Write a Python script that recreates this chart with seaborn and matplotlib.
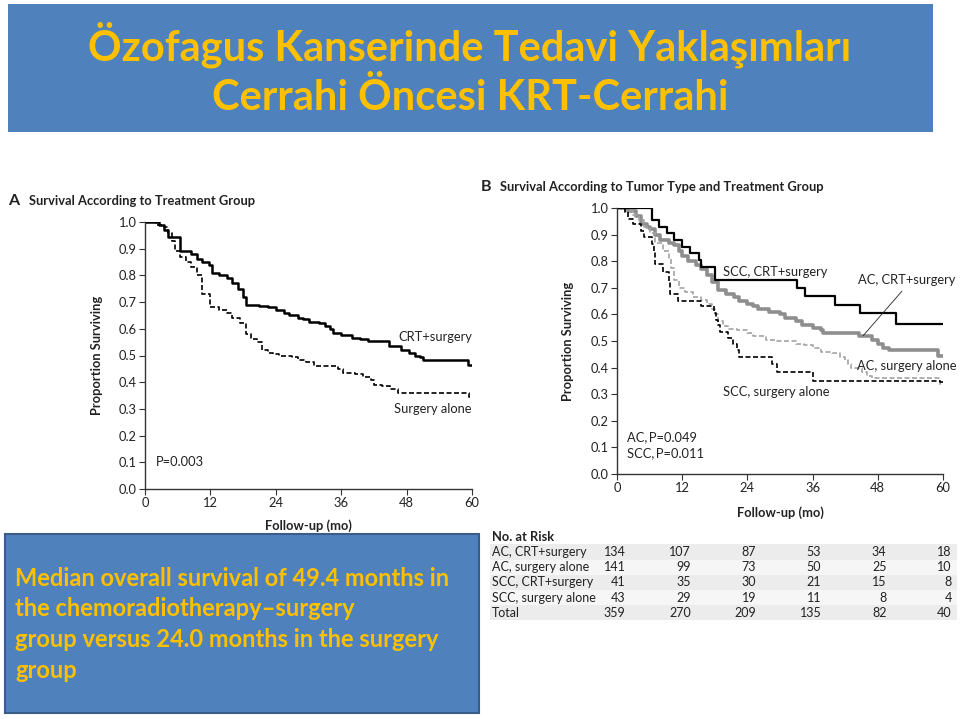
import numpy as np
import pandas as pd
import matplotlib.pyplot as plt
import seaborn as sns
from matplotlib.patches import Rectangle

# ---- data ----
# panel A: survival according to treatment group
crt_t = [0, 2.5, 3.5, 4.2, 6.5, 8.5, 9.5, 10.5, 11.7, 12.3, 13.5, 15, 16, 17, 18, 18.5, 21, 22.5, 24,
         25.5, 26.5, 28, 29, 30, 32, 33, 34, 34.5, 36, 38, 39.5, 41, 44.8, 47, 48.5, 49.5, 50.5, 51.1, 59.3, 60]
crt_s = [1.0, 0.99, 0.97, 0.945, 0.89, 0.88, 0.86, 0.85, 0.84, 0.81, 0.80, 0.79, 0.77, 0.75, 0.72, 0.69, 0.685, 0.68, 0.67,
         0.66, 0.65, 0.64, 0.635, 0.625, 0.62, 0.61, 0.60, 0.585, 0.575, 0.565, 0.56, 0.555, 0.535, 0.52, 0.51, 0.50, 0.495, 0.485, 0.465, 0.465]
sur_t = [0, 2, 3.5, 4.2, 5, 5.5, 6.5, 7.5, 8.5, 9.5, 10.5, 12, 13.5, 15, 16, 17.5, 18.5, 19.5, 20.5, 21.5,
         22.5, 23.5, 24.5, 27, 28, 29.5, 31, 35.5, 36.3, 38.5, 40, 41.5, 42, 43.5, 45, 46.5, 59.5, 60]
sur_s = [1.0, 0.99, 0.98, 0.96, 0.93, 0.89, 0.87, 0.85, 0.83, 0.80, 0.73, 0.68, 0.67, 0.66, 0.64, 0.62, 0.58, 0.56, 0.55, 0.52,
         0.51, 0.505, 0.50, 0.495, 0.485, 0.475, 0.46, 0.45, 0.435, 0.43, 0.42, 0.41, 0.39, 0.385, 0.375, 0.36, 0.345, 0.345]

# panel B: survival according to tumor type and treatment group
scc_crt_t = [0, 6.5, 7.8, 9.2, 10.4, 11.9, 13.5, 15, 15.5, 18.1, 33.1, 34.6, 40.2, 44.7, 51.3, 60]
scc_crt_s = [1.0, 0.955, 0.93, 0.905, 0.88, 0.855, 0.83, 0.805, 0.78, 0.73, 0.70, 0.67, 0.635, 0.605, 0.565, 0.565]
ac_crt_t = [0, 2, 3.5, 4.5, 5.5, 6, 7, 8, 9.5, 10.5, 11.5, 12, 13, 14.5, 15.5, 16.5, 17.5, 18.5, 20, 21.5, 22.5,
            24, 25, 26, 28, 30, 31, 33, 34, 36, 37.5, 38, 44.5, 47, 48, 49, 50, 59, 60]
ac_crt_s = [1.0, 0.99, 0.97, 0.94, 0.93, 0.92, 0.90, 0.88, 0.87, 0.86, 0.84, 0.82, 0.80, 0.785, 0.77, 0.75, 0.72, 0.69, 0.675, 0.665, 0.65,
            0.64, 0.63, 0.62, 0.61, 0.60, 0.585, 0.575, 0.56, 0.55, 0.54, 0.53, 0.52, 0.505, 0.49, 0.475, 0.465, 0.445, 0.445]
ac_sur_t = [0, 1.5, 3, 4, 5, 6, 7, 8.5, 9.5, 10, 10.5, 11.5, 12.5, 14, 15.5, 16.5, 17.5, 18, 18.5, 19.5, 20.5, 22,
            24, 25, 27.5, 29, 33, 34.5, 36, 37.5, 39.5, 41, 42, 42.5, 43, 45, 46, 47, 59.5, 60]
ac_sur_s = [1.0, 0.99, 0.975, 0.955, 0.93, 0.905, 0.87, 0.84, 0.81, 0.775, 0.73, 0.70, 0.685, 0.665, 0.655, 0.64, 0.62, 0.60, 0.575, 0.555, 0.545, 0.54,
            0.53, 0.52, 0.505, 0.50, 0.49, 0.485, 0.475, 0.46, 0.455, 0.44, 0.43, 0.415, 0.40, 0.385, 0.37, 0.36, 0.34, 0.34]
scc_sur_t = [0, 1.5, 2, 3, 4.5, 5, 6.5, 6.8, 7, 8.5, 9.5, 9.7, 11.2, 15.5, 17.8, 18.3, 18.5, 19, 20.5, 21.3,
             22, 22.5, 28.5, 29.5, 36, 59.5, 60]
scc_sur_s = [1.0, 0.985, 0.96, 0.94, 0.915, 0.89, 0.865, 0.84, 0.79, 0.76, 0.72, 0.675, 0.65, 0.63, 0.605, 0.58, 0.56, 0.535, 0.51, 0.49,
             0.465, 0.44, 0.415, 0.385, 0.35, 0.345, 0.345]

# number at risk
risk_months = [0, 12, 24, 36, 48, 60]
risk_groups = ['AC, CRT+surgery', 'AC, surgery alone', 'SCC, CRT+surgery', 'SCC, surgery alone', 'Total']
risk_counts = [[134, 107, 87, 53, 34, 18],
               [141, 99, 73, 50, 25, 10],
               [41, 35, 30, 21, 15, 8],
               [43, 29, 19, 11, 8, 4],
               [359, 270, 209, 135, 82, 40]]

title_lines = ['Özofagus Kanserinde Tedavi Yaklaşımları', 'Cerrahi Öncesi KRT-Cerrahi']
box_lines = ['Median overall survival of 49.4 months in',
             'the chemoradiotherapy\u2013surgery',
             'group versus 24.0 months in the surgery',
             'group']

sns.set_theme(style='ticks')
plt.rcParams['font.family'] = ['Lato', 'DejaVu Sans']

BLUE = '#4F81BD'
GOLD = '#FFC000'
INK = '#222222'
SMALL = 9.3

fig = plt.figure(figsize=(9.6, 7.19), dpi=100)

# title banner
fig.patches.append(Rectangle((8 / 960, 1 - 132 / 719), 925 / 960, 128 / 719,
                             transform=fig.transFigure, facecolor=BLUE, edgecolor='none', zorder=0))
fig.text(0.4896, 1 - 45 / 719, title_lines[0], ha='center', va='center',
         color=GOLD, fontsize=30, fontweight='bold')
fig.text(0.4896, 1 - 98 / 719, title_lines[1], ha='center', va='center',
         color=GOLD, fontsize=30, fontweight='bold')


def style_km(ax, ylab_x, xlab_y):
    ax.set_xlim(0, 60)
    ax.set_ylim(0, 1)
    ax.set_xticks(risk_months)
    ax.set_yticks(np.round(np.arange(0, 1.01, 0.1), 1))
    ax.set_yticklabels([f'{v:.1f}' for v in np.arange(0, 1.01, 0.1)])
    ax.margins(0)
    sns.despine(ax=ax)
    for s in ['left', 'bottom']:
        ax.spines[s].set_color('#333333')
        ax.spines[s].set_linewidth(1.0)
    ax.tick_params(axis='both', length=4, width=0.8, color='#333333',
                   labelsize=SMALL, labelcolor=INK, pad=2)
    ax.set_xlabel('Follow-up (mo)', fontsize=SMALL, fontweight='bold', color=INK)
    ax.set_ylabel('Proportion Surviving', fontsize=SMALL, fontweight='bold', color=INK)
    ax.yaxis.set_label_coords(ylab_x, 0.5)
    ax.xaxis.set_label_coords(0.5, xlab_y)
    ax.set_facecolor('white')


# ---- panel A ----
axA = fig.add_axes([145 / 960, 1 - 489 / 719, 327 / 960, 267 / 719])
dfA = pd.concat([
    pd.DataFrame({'t': crt_t, 's': crt_s, 'grp': 'CRT+surgery'}),
    pd.DataFrame({'t': sur_t, 's': sur_s, 'grp': 'Surgery alone'}),
])
sns.lineplot(data=dfA, x='t', y='s', hue='grp', style='grp', size='grp',
             palette={'CRT+surgery': 'black', 'Surgery alone': 'black'},
             dashes={'CRT+surgery': '', 'Surgery alone': (3, 1.5)},
             sizes={'CRT+surgery': 1.8, 'Surgery alone': 1.2},
             drawstyle='steps-post', estimator=None, legend=False, ax=axA)
style_km(axA, -0.128, -0.112)
axA.text(60, 0.57, 'CRT+surgery', ha='right', va='center', fontsize=SMALL, color=INK)
axA.text(60, 0.30, 'Surgery alone', ha='right', va='center', fontsize=SMALL, color=INK)
axA.text(2.0, 0.10, 'P=0.003', ha='left', va='center', fontsize=SMALL, color=INK)
fig.text(8 / 960, 1 - 201 / 719, 'A', ha='left', va='center', fontsize=11.5, fontweight='bold', color=INK)
fig.text(29 / 960, 1 - 201 / 719, 'Survival According to Treatment Group', ha='left', va='center',
         fontsize=SMALL, fontweight='bold', color=INK)

# ---- panel B ----
axB = fig.add_axes([617 / 960, 1 - 474 / 719, 326 / 960, 266 / 719])
dfB = pd.concat([
    pd.DataFrame({'t': ac_crt_t, 's': ac_crt_s, 'grp': 'AC, CRT+surgery'}),
    pd.DataFrame({'t': ac_sur_t, 's': ac_sur_s, 'grp': 'AC, surgery alone'}),
    pd.DataFrame({'t': scc_sur_t, 's': scc_sur_s, 'grp': 'SCC, surgery alone'}),
    pd.DataFrame({'t': scc_crt_t, 's': scc_crt_s, 'grp': 'SCC, CRT+surgery'}),
])
sns.lineplot(data=dfB, x='t', y='s', hue='grp', style='grp', size='grp',
             palette={'AC, CRT+surgery': '#8e8e8e', 'AC, surgery alone': '#a3a3a3',
                      'SCC, surgery alone': 'black', 'SCC, CRT+surgery': 'black'},
             dashes={'AC, CRT+surgery': '', 'AC, surgery alone': (3, 1.5),
                     'SCC, surgery alone': (3, 1.5), 'SCC, CRT+surgery': ''},
             sizes={'AC, CRT+surgery': 2.6, 'AC, surgery alone': 1.2,
                    'SCC, surgery alone': 1.2, 'SCC, CRT+surgery': 1.6},
             drawstyle='steps-post', estimator=None, legend=False, ax=axB)
style_km(axB, -0.132, -0.12)
axB.text(29.1, 0.76, 'SCC, CRT+surgery', ha='center', va='center', fontsize=SMALL, color=INK)
axB.annotate('AC, CRT+surgery', xy=(45.3, 0.52), xytext=(53.3, 0.73), ha='center', va='center',
             fontsize=SMALL, color=INK,
             arrowprops=dict(arrowstyle='-', color=INK, lw=0.6, relpos=(0.5, 0), shrinkA=2, shrinkB=0))
axB.text(53.4, 0.406, 'AC, surgery alone', ha='center', va='center', fontsize=SMALL, color=INK)
axB.text(29.3, 0.308, 'SCC, surgery alone', ha='center', va='center', fontsize=SMALL, color=INK)
axB.text(1.8, 0.139, 'AC,\u2009P=0.049', ha='left', va='center', fontsize=SMALL, color=INK)
axB.text(1.8, 0.079, 'SCC,\u2009P=0.011', ha='left', va='center', fontsize=SMALL, color=INK)
fig.text(481 / 960, 1 - 187 / 719, 'B', ha='left', va='center', fontsize=11.5, fontweight='bold', color=INK)
fig.text(500 / 960, 1 - 187 / 719, 'Survival According to Tumor Type and Treatment Group', ha='left', va='center',
         fontsize=SMALL, fontweight='bold', color=INK)

# ---- number at risk table, columns aligned with panel B months ----
axT = fig.add_axes([490 / 960, 1 - 622 / 719, 467 / 960, 92 / 719])
axT.set_xlim(-23.37, 62.58)
axT.set_ylim(4.605, -1.447)
axT.axis('off')
band_cols = ['#ececec', '#f6f6f6']
for i, (grp, counts) in enumerate(zip(risk_groups, risk_counts)):
    axT.axhspan(i - 0.5, i + 0.5, color=band_cols[i % 2], lw=0, zorder=0)
    axT.text(-23.0, i, grp, ha='left', va='center', fontsize=9, color=INK)
    for m, c in zip(risk_months, counts):
        axT.text(m + 1.6, i, str(c), ha='right', va='center', fontsize=9, color=INK)
axT.text(-23.0, -1, 'No. at Risk', ha='left', va='center', fontsize=9.3, fontweight='bold', color=INK)

# ---- summary box ----
fig.patches.append(Rectangle((5 / 960, 1 - 713 / 719), 474 / 960, 179 / 719,
                             transform=fig.transFigure, facecolor=BLUE, edgecolor='#385D8A',
                             linewidth=1.5, zorder=0))
for k, line in enumerate(box_lines):
    fig.text(15 / 960, 1 - (578 + 30.7 * k) / 719, line, ha='left', va='center',
             color=GOLD, fontsize=17, fontweight='bold')

fig.savefig('out.png', dpi=100, facecolor='white')
